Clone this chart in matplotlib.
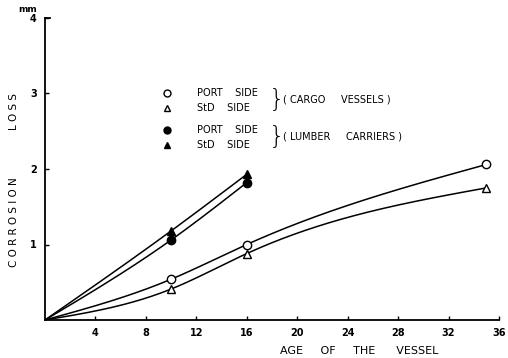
import numpy as np
import matplotlib
matplotlib.use('Agg')
import matplotlib.pyplot as plt

# values (age in years, corrosion loss in mm)
cargo_age = [0, 10, 16, 35]
cargo_port = [0, 0.54, 1.0, 2.06]
cargo_std = [0, 0.41, 0.88, 1.75]
lumber_age = [0, 10, 16]
lumber_port = [0, 1.06, 1.82]
lumber_std = [0, 1.18, 1.93]

xticks = [4, 8, 12, 16, 20, 24, 28, 32, 36]
yticks = [1, 2, 3, 4]

plt.rcParams['font.family'] = 'DejaVu Sans'

fig = plt.figure(figsize=(5.08, 3.58), dpi=100)
ax = fig.add_axes([45/508, 1-320/358, 454/508, 302/358])


def natural_spline(xs, ys, n=300):
    # natural cubic spline through the read points
    x = np.asarray(xs, float)
    y = np.asarray(ys, float)
    N = len(x)
    h = np.diff(x)
    A = np.zeros((N, N))
    b = np.zeros(N)
    A[0, 0] = 1
    A[-1, -1] = 1
    for i in range(1, N - 1):
        A[i, i-1] = h[i-1]
        A[i, i] = 2*(h[i-1] + h[i])
        A[i, i+1] = h[i]
        b[i] = 6*((y[i+1]-y[i])/h[i] - (y[i]-y[i-1])/h[i-1])
    M = np.linalg.solve(A, b)
    xx = np.linspace(x[0], x[-1], n)
    idx = np.clip(np.searchsorted(x, xx) - 1, 0, N - 2)
    hi = h[idx]
    a = x[idx+1] - xx
    c = xx - x[idx]
    yy = (M[idx]*a**3 + M[idx+1]*c**3)/(6*hi) \
        + (y[idx]/hi - M[idx]*hi/6)*a + (y[idx+1]/hi - M[idx+1]*hi/6)*c
    return xx, yy


for xs, ys in [(cargo_age, cargo_port), (cargo_age, cargo_std),
               (lumber_age, lumber_port), (lumber_age, lumber_std)]:
    xx, yy = natural_spline(xs, ys)
    ax.plot(xx, yy, color='black', lw=1.1)

ms = 6
ax.plot(cargo_age[1:], cargo_port[1:], 'o', mfc='white', mec='black', ms=ms, mew=1)
ax.plot(cargo_age[1:], cargo_std[1:], '^', mfc='white', mec='black', ms=ms, mew=1)
ax.plot(lumber_age[1:], lumber_port[1:], 'o', color='black', ms=ms)
ax.plot(lumber_age[1:], lumber_std[1:], '^', color='black', ms=ms)

ax.set_xlim(0, 36)
ax.set_ylim(0, 4)
ax.set_xticks(xticks)
ax.set_yticks(yticks)
ax.tick_params(direction='in', length=3, width=1, labelsize=7, pad=6)
for lab in ax.get_xticklabels() + ax.get_yticklabels():
    lab.set_fontweight('bold')
ax.spines['top'].set_visible(False)
ax.spines['right'].set_visible(False)
ax.spines['left'].set_linewidth(1.3)
ax.spines['bottom'].set_linewidth(1.3)
ax.plot([0, 0.4], [4, 4], color='black', lw=1.3, clip_on=False)

ax.set_xlabel('AGE     OF     THE      VESSEL', fontsize=8)
ax.xaxis.set_label_coords(0.693, -0.085)
fig.text(14/508, 1-222/358, 'C O R R O S I O N', fontsize=7.5, rotation=90,
         ha='center', va='center')
fig.text(14/508, 1-112/358, 'L O S S', fontsize=7.5, rotation=90,
         ha='center', va='center')
fig.text(28/508, 1-10/358, 'mm', fontsize=6.5, ha='center', va='center',
         fontweight='bold')

# legend drawn by hand with braces
lx = (167-45)/454
tx = (197-45)/454
rows = [93, 108, 130, 145]
styles = [dict(marker='o', mfc='white', mec='black'),
          dict(marker='^', mfc='white', mec='black'),
          dict(marker='o', mfc='black', mec='black'),
          dict(marker='^', mfc='black', mec='black')]
labels = ['PORT    SIDE', 'StD    SIDE', 'PORT    SIDE', 'StD    SIDE']
for r, st, lab in zip(rows, styles, labels):
    yf = (320-r)/302
    ax.plot([lx], [yf], transform=ax.transAxes, ms=5, mew=1, ls='none', **st)
    ax.text(tx, yf, lab, transform=ax.transAxes, fontsize=7, va='center')
for r0, txt in [(100, '( CARGO     VESSELS )'), (137, '( LUMBER     CARRIERS )')]:
    yf = (320-r0)/302
    ax.text((269-45)/454, yf, '}', transform=ax.transAxes, fontsize=18,
            va='center', fontweight='light')
    ax.text((283-45)/454, yf, txt, transform=ax.transAxes, fontsize=7, va='center')

fig.savefig('out.png', dpi=100)
